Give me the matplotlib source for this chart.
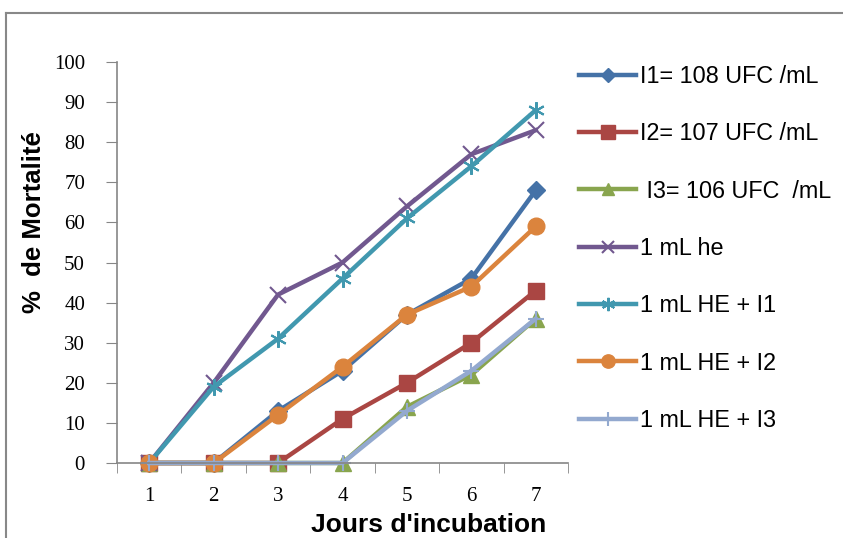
import matplotlib.pyplot as plt
from matplotlib.lines import Line2D

days = [1, 2, 3, 4, 5, 6, 7]
i1 = [0, 0, 13, 23, 37, 46, 68]
i2 = [0, 0, 0, 11, 20, 30, 43]
i3 = [0, 0, 0, 0, 14, 22, 36]
he = [0, 20, 42, 50, 64, 77, 83]
he_i1 = [0, 19, 31, 46, 61, 74, 88]
he_i2 = [0, 0, 12, 24, 37, 44, 59]
he_i3 = [0, 0, 0, 0, 13, 23, 36]

labels = ["I1= 108 UFC /mL", "I2= 107 UFC /mL", " I3= 106 UFC  /mL",
          "1 mL he", "1 mL HE + I1", "1 mL HE + I2", "1 mL HE + I3"]
series = [i1, i2, i3, he, he_i1, he_i2, he_i3]
colors = ["#4572A7", "#AA4643", "#89A54E", "#71588F", "#4198AF", "#DB843D", "#93A9CF"]
markers = ["D", "s", "^", "x", (6, 2, 0), "o", "+"]
msizes = [9, 12, 11, 11, 12, 12, 12]

fig = plt.figure(figsize=(8.43, 5.38), dpi=100)
ax = fig.add_axes([117 / 843, 1 - 463 / 538, (568 - 117) / 843, (463 - 62) / 538])

handles = []
for y, lab, c, m, ms in zip(series, labels, colors, markers, msizes):
    mew = 1.5 if m in ("x", "+", (6, 2, 0)) else 1
    ax.plot(days, y, color=c, lw=3.2, marker=m, markersize=ms,
            markeredgecolor=c, markeredgewidth=mew, clip_on=False)
    handles.append(Line2D([], [], color=c, lw=3.2, marker=m,
                          markersize=ms * 0.8, markeredgecolor=c,
                          markeredgewidth=mew))

ax.set_xlim(0.5, 7.5)
ax.set_ylim(0, 100)
ax.set_yticks(range(0, 101, 10))
ax.set_xticks(days)
ax.set_xticks([0.5 + k for k in range(8)], minor=True)
ax.tick_params(axis="x", which="major", length=0, pad=17)
ax.tick_params(axis="x", which="minor", length=7, color="#868686", direction="out")
ax.tick_params(axis="y", length=8, color="#868686", direction="out", pad=15)
for lab in ax.get_xticklabels() + ax.get_yticklabels():
    lab.set_fontfamily("Liberation Serif")
    lab.set_fontsize(15)
for s in ["top", "right"]:
    ax.spines[s].set_visible(False)
for s in ["left", "bottom"]:
    ax.spines[s].set_color("#868686")
    ax.spines[s].set_linewidth(1.2)

ax.set_ylabel("%  de Mortalité", fontfamily="Liberation Sans", fontweight="bold",
              fontsize=18.5)
ax.yaxis.set_label_coords(-0.158, 0.60)
ax.set_xlabel("Jours d'incubation", fontfamily="Liberation Sans", fontweight="bold",
              fontsize=19)
ax.xaxis.set_label_coords(0.69, -0.125)

fig.legend(handles=handles, labels=labels, loc="upper left",
           bbox_to_anchor=(579 / 843, 1 - 65 / 538), frameon=False,
           prop={"family": "Liberation Sans", "size": 16.8},
           handlelength=2.45, handletextpad=0.15, labelspacing=1.47,
           borderpad=0, borderaxespad=0)

# outer chart border (cropped)
fig.add_artist(Line2D([6 / 843, 6 / 843], [0, 1 - 13 / 538], color="#888888", lw=1.5))
fig.add_artist(Line2D([6 / 843, 1], [1 - 13 / 538, 1 - 13 / 538], color="#888888", lw=1.5))

fig.savefig("out.png", dpi=100)
